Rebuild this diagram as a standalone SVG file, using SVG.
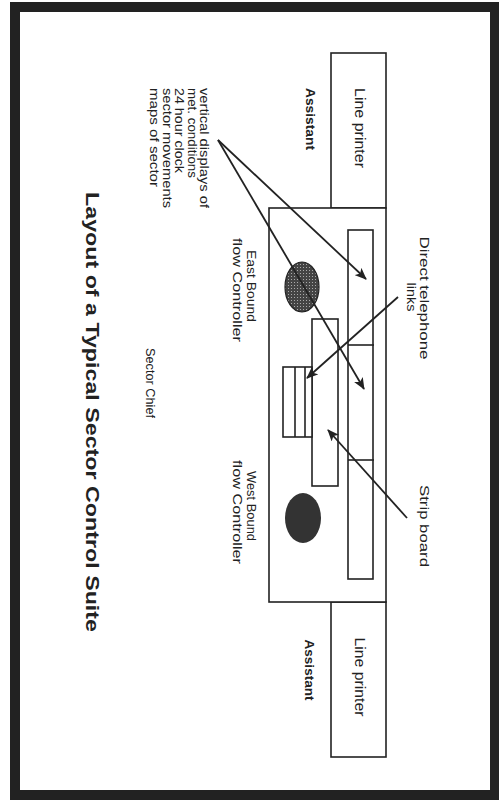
<svg xmlns="http://www.w3.org/2000/svg" width="499" height="804" viewBox="0 0 499 804">
<style>
.box{fill:#fff;stroke:#222;stroke-width:1.6}
.ln{stroke:#222;stroke-width:1.6;fill:none}
.t{font-family:"Liberation Sans",Arial,sans-serif;fill:#222}
.arr{stroke:#222;stroke-width:1.8;fill:none;marker-end:url(#ah)}
</style>
<defs>
<marker id="ah" viewBox="0 0 12 10" refX="11" refY="5" markerWidth="12" markerHeight="10" markerUnits="userSpaceOnUse" orient="auto">
<path d="M0,0 L12,5 L0,10 L3,5 z" fill="#222"/>
</marker>
<pattern id="dots" width="3" height="3" patternUnits="userSpaceOnUse">
<rect width="3" height="3" fill="#444"/>
<rect width="1" height="1" fill="#aaa"/>
</pattern>
</defs>
<rect x="0" y="0" width="499" height="804" fill="#fff"/>
<rect x="15" y="7" width="480" height="788" fill="#fff" stroke="#222" stroke-width="10"/>

<g id="printer-top">
<rect class="box" x="331" y="53" width="55" height="155"/>
<text class="t" font-size="14" text-anchor="middle" textLength="80" lengthAdjust="spacingAndGlyphs" transform="translate(355,128) rotate(90)">Line printer</text>
</g>
<g id="printer-bottom">
<rect class="box" x="331" y="602" width="55" height="155"/>
<text class="t" font-size="14" text-anchor="middle" textLength="79" lengthAdjust="spacingAndGlyphs" transform="translate(355,677) rotate(90)">Line printer</text>
</g>
<g id="assistant-top">
<text class="t" font-size="13" font-weight="bold" text-anchor="middle" textLength="62" lengthAdjust="spacingAndGlyphs" transform="translate(306,119) rotate(90)">Assistant</text>
</g>
<g id="assistant-bottom">
<text class="t" font-size="13" font-weight="bold" text-anchor="middle" textLength="61" lengthAdjust="spacingAndGlyphs" transform="translate(305,670) rotate(90)">Assistant</text>
</g>

<g id="suite">
<rect class="box" x="269" y="208" width="117" height="394"/>
</g>
<g id="strip-board">
<rect class="box" x="348" y="230" width="25" height="349"/>
<line class="ln" x1="348" y1="345" x2="374" y2="345" stroke-width="2"/>
<line class="ln" x1="348" y1="460" x2="374" y2="460" stroke-width="2"/>
</g>
<g id="chief-desk">
<rect class="box" x="312" y="319" width="26" height="167"/>
</g>
<g id="phones">
<rect class="box" x="283" y="367" width="29" height="70"/>
<line class="ln" x1="295" y1="367" x2="295" y2="437"/>
<line class="ln" x1="305" y1="367" x2="305" y2="437"/>
</g>
<g id="east-display">
<ellipse cx="302" cy="287" rx="17" ry="25" fill="url(#dots)" stroke="#222" stroke-width="1.2"/>
</g>
<g id="west-display">
<ellipse cx="303" cy="518" rx="18" ry="25" fill="#333"/>
</g>

<g id="connectors">
<line class="arr" x1="218" y1="140" x2="366" y2="279"/>
<line class="arr" x1="218" y1="140" x2="364" y2="389"/>
<line class="arr" x1="398" y1="297" x2="307" y2="378"/>
<line class="arr" x1="407" y1="518" x2="328" y2="430"/>
</g>

<g id="labels">
<g id="displays-label">
<text class="t" font-size="12" textLength="120" lengthAdjust="spacingAndGlyphs" transform="translate(200,88) rotate(90)">vertical displays of</text>
<text class="t" font-size="12" textLength="90" lengthAdjust="spacingAndGlyphs" transform="translate(187.5,88) rotate(90)">met. conditions</text>
<text class="t" font-size="12" textLength="85" lengthAdjust="spacingAndGlyphs" transform="translate(175,88) rotate(90)">24 hour clock</text>
<text class="t" font-size="12" textLength="120" lengthAdjust="spacingAndGlyphs" transform="translate(162.5,88) rotate(90)">sector movements</text>
<text class="t" font-size="12" textLength="99" lengthAdjust="spacingAndGlyphs" transform="translate(150,88) rotate(90)">maps of sector</text>
</g>
<g id="telephone-label">
<text class="t" font-size="13" text-anchor="middle" textLength="123" lengthAdjust="spacingAndGlyphs" transform="translate(420,298) rotate(90)">Direct telephone</text>
<text class="t" font-size="13" text-anchor="middle" textLength="29" lengthAdjust="spacingAndGlyphs" transform="translate(407,297) rotate(90)">links</text>
</g>
<g id="strip-label">
<text class="t" font-size="13" text-anchor="middle" textLength="82" lengthAdjust="spacingAndGlyphs" transform="translate(420,526) rotate(90)">Strip board</text>
</g>
<g id="east-label">
<text class="t" font-size="12" text-anchor="middle" textLength="72" lengthAdjust="spacingAndGlyphs" transform="translate(247,286) rotate(90)">East Bound</text>
<text class="t" font-size="12" text-anchor="middle" textLength="104" lengthAdjust="spacingAndGlyphs" transform="translate(233,290) rotate(90)">flow Controller</text>
</g>
<g id="west-label">
<text class="t" font-size="12" text-anchor="middle" textLength="70" lengthAdjust="spacingAndGlyphs" transform="translate(247,506) rotate(90)">West Bound</text>
<text class="t" font-size="12" text-anchor="middle" textLength="104" lengthAdjust="spacingAndGlyphs" transform="translate(233,512) rotate(90)">flow Controller</text>
</g>
<g id="chief-label">
<text class="t" font-size="12" text-anchor="middle" textLength="70" lengthAdjust="spacingAndGlyphs" transform="translate(146,383) rotate(90)">Sector Chief</text>
</g>
<g id="title">
<text class="t" font-size="18" font-weight="bold" text-anchor="middle" textLength="440" lengthAdjust="spacingAndGlyphs" transform="translate(86,412) rotate(90)">Layout of a Typical Sector Control Suite</text>
</g>
</g>
</svg>
